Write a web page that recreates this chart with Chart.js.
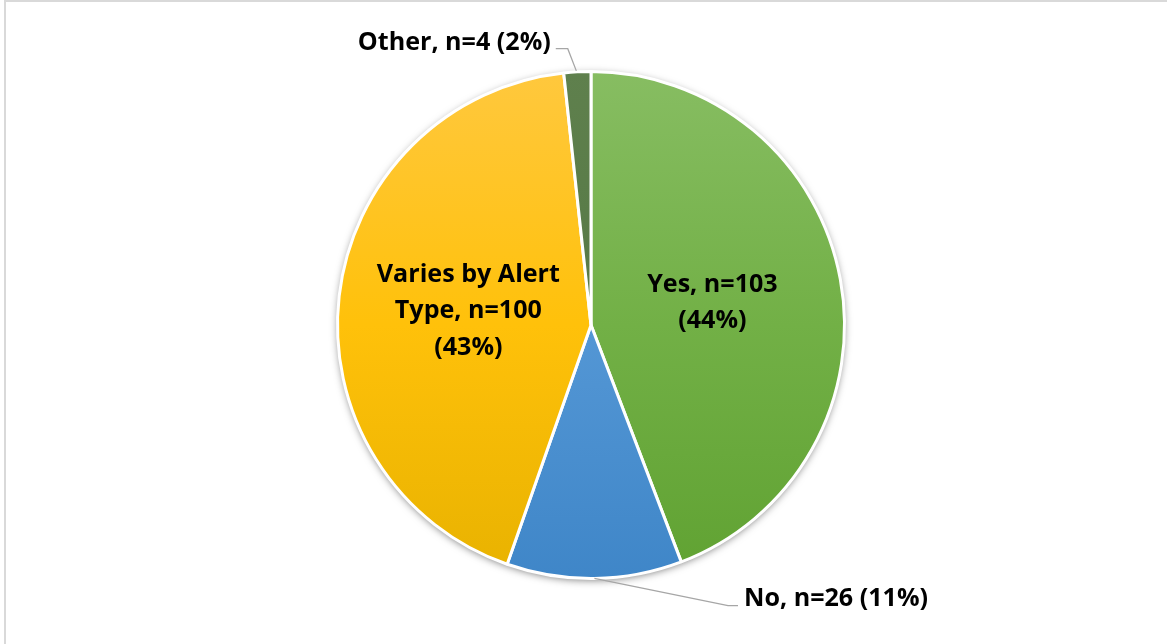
<!DOCTYPE html>
<html><head><meta charset="utf-8">
<script src="https://cdn.jsdelivr.net/npm/chart.js@4/dist/chart.umd.min.js"></script>
<style>
html,body{margin:0;padding:0;background:#fff;}
#wrap{position:absolute;left:0;top:0;width:1167px;height:644px;}
#frame{position:absolute;left:4px;top:0;width:1170px;height:650px;border-left:2px solid #d9d9d9;border-top:2px solid #d9d9d9;box-sizing:border-box;pointer-events:none;}
</style></head>
<body>
<div id="wrap"><canvas id="c" width="1167" height="644"></canvas><div id="frame"></div></div>
<script>
const categories = ["Yes", "No", "Varies by Alert Type", "Other"];
const counts = [103, 26, 100, 4];
const percents = ["44%", "11%", "43%", "2%"];
const labelLines = [
  ["Yes, n=103", "(44%)"],
  ["No, n=26 (11%)"],
  ["Varies by Alert", "Type, n=100", "(43%)"],
  ["Other, n=4 (2%)"]
];
const gradTop = ["#87bd62", "#6ea9e0", "#ffc83e", "#5f804d"];
const gradMid = ["#72b046", "#5497d5", "#ffc10a", "#567946"];
const gradBot = ["#60a232", "#3f86c8", "#e8b200", "#4d7040"];

function grad(ctx) {
  const chart = ctx.chart;
  const a = chart.chartArea;
  if (!a) return gradBot[ctx.dataIndex];
  const g = chart.ctx.createLinearGradient(0, a.top, 0, a.bottom);
  g.addColorStop(0, gradTop[ctx.dataIndex]);
  g.addColorStop(0.5, gradMid[ctx.dataIndex]);
  g.addColorStop(1, gradBot[ctx.dataIndex]);
  return g;
}

const FAMILY = '"Open Sans", "Noto Sans", sans-serif';
let fontSize = 22;
function fitFont(ctx) {
  ctx.save();
  ctx.font = 'bold 100px ' + FAMILY;
  const w = ctx.measureText("Other, n=4 (2%)").width;
  ctx.restore();
  fontSize = 100 * 193 / w;
}

const labelPlugin = {
  id: 'labels',
  beforeDatasetsDraw(chart) {
    const ctx = chart.ctx;
    const arc = chart.getDatasetMeta(0).data[0];
    ctx.save();
    ctx.shadowColor = 'rgba(0,0,0,0.6)';
    ctx.shadowBlur = 8;
    ctx.shadowOffsetY = 2;
    ctx.beginPath();
    ctx.arc(arc.x, arc.y, arc.outerRadius - 1, 0, Math.PI * 2);
    ctx.fillStyle = '#fff';
    ctx.fill();
    ctx.restore();
  },
  afterDatasetsDraw(chart) {
    const ctx = chart.ctx;
    const meta = chart.getDatasetMeta(0);
    fitFont(ctx);
    ctx.save();
    ctx.font = 'bold ' + fontSize.toFixed(2) + 'px ' + FAMILY;
    ctx.fillStyle = '#000';
    ctx.textAlign = 'center';
    ctx.textBaseline = 'middle';
    const lh = 36.5;
    [0, 2].forEach(i => {
      const el = meta.data[i];
      const mid = (el.startAngle + el.endAngle) / 2;
      const r = el.outerRadius * 0.487;
      const cx = el.x + Math.cos(mid) * r;
      const cy = el.y + Math.sin(mid) * r;
      const lines = labelLines[i];
      const off = (lines.length - 1) / 2;
      lines.forEach((t, k) => ctx.fillText(t, cx, cy + (k - off) * lh));
    });
    ctx.strokeStyle = '#a6a6a6';
    ctx.lineWidth = 1.3;
    // No
    {
      const el = meta.data[1];
      const mid = (el.startAngle + el.endAngle) / 2;
      const px = el.x + Math.cos(mid) * el.outerRadius;
      const py = el.y + Math.sin(mid) * el.outerRadius;
      const lx = el.x + el.outerRadius * 0.58, ly = el.y + el.outerRadius * 1.107;
      ctx.beginPath();
      ctx.moveTo(px, py);
      ctx.lineTo(lx - 10, ly);
      ctx.lineTo(lx, ly);
      ctx.stroke();
      ctx.textAlign = 'left';
      ctx.fillText(labelLines[1][0], lx + 6, ly - 7);
    }
    // Other
    {
      const el = meta.data[3];
      const mid = (el.startAngle + el.endAngle) / 2;
      const px = el.x + Math.cos(mid) * el.outerRadius;
      const py = el.y + Math.sin(mid) * el.outerRadius;
      const ex = el.x - el.outerRadius * 0.139, ey = el.y - el.outerRadius * 1.09;
      ctx.beginPath();
      ctx.moveTo(px - 1, py - 1);
      ctx.lineTo(ex + 12, ey);
      ctx.lineTo(ex, ey);
      ctx.stroke();
      ctx.textAlign = 'right';
      ctx.fillText(labelLines[3][0], ex - 5, ey - 6);
    }
    ctx.restore();
  }
};

new Chart(document.getElementById('c'), {
  type: 'pie',
  data: {
    labels: categories,
    datasets: [{
      data: counts,
      backgroundColor: grad,
      borderColor: '#ffffff',
      borderWidth: 3
    }]
  },
  options: {
    responsive: false,
    animation: false,
    layout: { padding: { left: 15, right: 0, top: 70, bottom: 64 } },
    plugins: { legend: { display: false }, tooltip: { enabled: false } }
  },
  plugins: [labelPlugin]
});
</script>
</body></html>
